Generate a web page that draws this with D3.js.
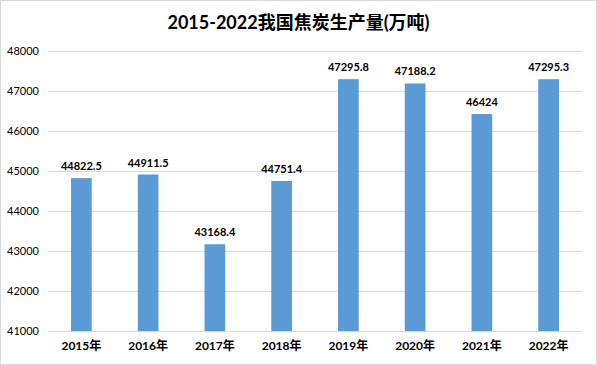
<!DOCTYPE html>
<html lang="zh">
<head>
  <meta charset="UTF-8">
  <title>2015-2022我国焦炭生产量</title>
  <style>
    body { margin: 0; background: #fff; }
    svg text { font-family: Lato, "Noto Sans CJK SC", sans-serif; fill: #000; }
  </style>
  <script src="https://d3js.org/d3.v7.min.js"></script>
</head>
<body>
  <div id="chart"></div>
  <script>
  const years  = ['2015年','2016年','2017年','2018年','2019年','2020年','2021年','2022年'];
  const output = [44822.5, 44911.5, 43168.4, 44751.4, 47295.8, 47188.2, 46424, 47295.3];
  const labels = ['44822.5','44911.5','43168.4','44751.4','47295.8','47188.2','46424','47295.3'];
  const yTicks = [41000, 42000, 43000, 44000, 45000, 46000, 47000, 48000];

  const W = 597, H = 365;
  const m = { t: 51, r: 14, b: 34, l: 48 };

  const svg = d3.select('#chart').append('svg')
    .attr('width', W).attr('height', H);

  // outer frame
  svg.append('rect')
    .attr('x', 0.5).attr('y', 0.5)
    .attr('width', W - 1).attr('height', H - 1)
    .attr('fill', '#fff').attr('stroke', '#d9d9d9');

  svg.append('text')
    .attr('x', W / 2).attr('y', 29)
    .attr('text-anchor', 'middle')
    .style('font-size', '18px').style('font-weight', 'bold')
    .text('2015-2022我国焦炭生产量(万吨)');

  const x = d3.scaleBand().domain(years)
    .range([m.l, W - m.r - 1]).paddingInner(0.69).paddingOuter(0.345);
  const y = d3.scaleLinear().domain([41000, 48000])
    .range([H - m.b, m.t]);

  // gridlines
  svg.append('g').selectAll('line').data(yTicks.slice(1)).join('line')
    .attr('x1', m.l).attr('x2', W - m.r - 1)
    .attr('y1', d => y(d) + 0.5).attr('y2', d => y(d) + 0.5)
    .attr('stroke', '#d9d9d9');

  // y axis labels
  const yAxis = svg.append('g')
    .attr('transform', `translate(${m.l - 6},0)`)
    .call(d3.axisLeft(y).tickValues(yTicks).tickSize(0).tickFormat(d3.format('d')));
  yAxis.select('.domain').remove();
  yAxis.selectAll('text').style('font-size', '11px').attr('dy', '0.35em');

  // bars
  svg.append('g').selectAll('rect').data(years).join('rect')
    .attr('x', d => x(d))
    .attr('y', (d, i) => y(output[i]))
    .attr('width', x.bandwidth())
    .attr('height', (d, i) => y(41000) - y(output[i]))
    .attr('fill', '#5b9bd5');

  // value labels
  svg.append('g').selectAll('text').data(years).join('text')
    .attr('x', d => x(d) + x.bandwidth() / 2)
    .attr('y', (d, i) => y(output[i]) - 8)
    .attr('text-anchor', 'middle')
    .style('font-size', '11px').style('font-weight', 'bold')
    .text((d, i) => labels[i]);

  // x axis
  const xAxis = svg.append('g')
    .attr('transform', `translate(0,${y(41000)})`)
    .call(d3.axisBottom(x).tickSize(0).tickPadding(10));
  xAxis.select('.domain').attr('stroke', '#d9d9d9').attr('d', `M${m.l},0.5H${W - m.r - 1}`);
  xAxis.selectAll('text').style('font-size', '12px').style('font-weight', 'bold');
  </script>
</body>
</html>
